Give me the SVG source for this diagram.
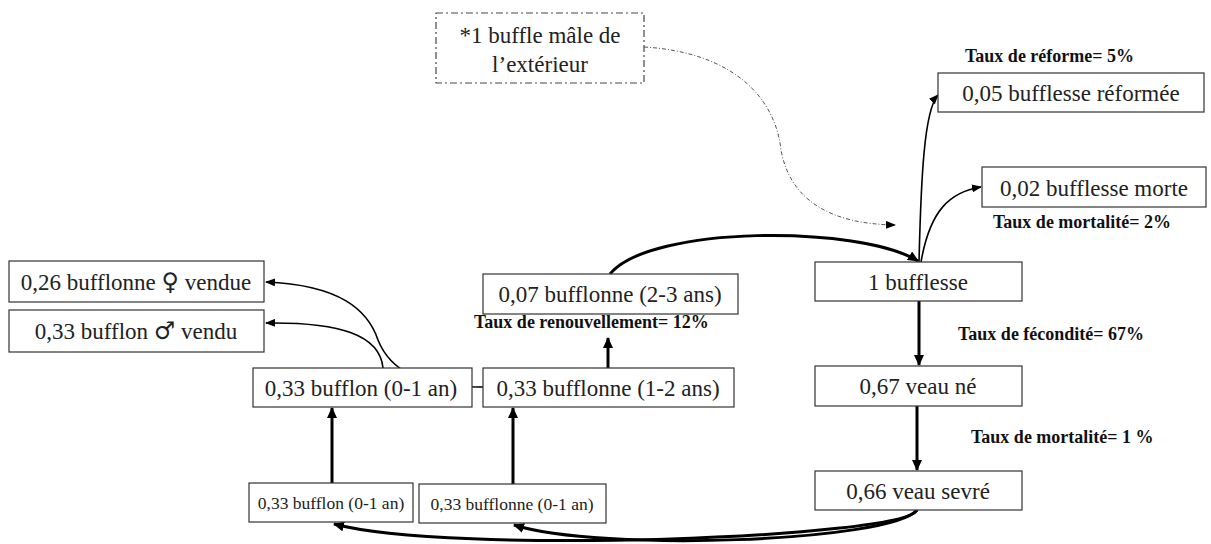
<svg xmlns="http://www.w3.org/2000/svg" width="1211" height="544" viewBox="0 0 1211 544">
<style>
.box{fill:#fff;stroke:#333;stroke-width:1.2}
.dbox{fill:#fff;stroke:#444;stroke-width:1.2;stroke-dasharray:7 3 2 3}
.t{font-family:"Liberation Serif","DejaVu Serif",serif;font-size:23px;fill:#222;text-anchor:middle}
.sm{font-size:17.5px}
.sym{font-family:"DejaVu Serif","DejaVu Sans",serif;font-size:24px}
.lb{font-family:"Liberation Serif","DejaVu Serif",serif;font-size:18px;font-weight:bold;fill:#111}
.thick{fill:none;stroke:#000;stroke-width:3;marker-end:url(#ah)}
.thin{fill:none;stroke:#000;stroke-width:1.6;marker-end:url(#ahs)}
.dot{fill:none;stroke:#555;stroke-width:1;stroke-dasharray:4 2 1 2;marker-end:url(#ahs)}
</style>
<defs>
<marker id="ah" markerUnits="userSpaceOnUse" markerWidth="12" markerHeight="10" refX="10" refY="5" orient="auto"><path d="M0,0 L11,5 L0,10 z" fill="#000"/></marker>
<marker id="ahs" markerUnits="userSpaceOnUse" markerWidth="11" markerHeight="8" refX="9" refY="4" orient="auto"><path d="M0,0 L10,4 L0,8 z" fill="#000"/></marker>
</defs>
<rect width="1211" height="544" fill="#fff"/>
<g id="connectors">
<path class="thick" d="M610,274 C650,225 860,225 918,261"/>
<path class="thick" d="M919,301 L919,365"/>
<path class="thick" d="M917,406 L917,470"/>
<path class="thick" d="M917,510 C905,538 450,555 334,524"/>
<path class="thick" d="M917,510 C890,542 600,552 514,525"/>
<path class="thick" d="M332,483 L332,408"/>
<path class="thick" d="M513,484 L513,408"/>
<path class="thick" d="M608,368 L608,338"/>
<path class="thin" d="M383,368 C380,335 340,322 266,323"/>
<path class="thin" d="M483,387 C420,388 390,370 378,340 C368,310 340,285 266,282"/>
<path class="thin" d="M919,262 C921,180 924,110 938,95"/>
<path class="thin" d="M921,262 C930,210 950,192 981,187"/>
<path class="dot" d="M644,47 C730,52 775,95 781,150 C790,200 830,224 895,225"/>
</g>
<g id="ext"><rect class="dbox" x="436" y="13" width="208" height="70"/><text class="t" x="540" y="43">*1 buffle mâle de</text><text class="t" x="540" y="72">l’extérieur</text></g>
<g id="reformee"><rect class="box" x="938" y="73" width="266" height="39"/><text class="t" x="1071" y="101">0,05 bufflesse réformée</text></g>
<g id="morte"><rect class="box" x="982" y="167" width="224" height="40"/><text class="t" x="1094" y="196">0,02 bufflesse morte</text></g>
<g id="bufflesse"><rect class="box" x="815" y="262" width="207" height="39"/><text class="t" x="918" y="290">1 bufflesse</text></g>
<g id="veau-ne"><rect class="box" x="815" y="366" width="207" height="40"/><text class="t" x="918" y="394">0,67 veau né</text></g>
<g id="veau-sevre"><rect class="box" x="815" y="471" width="207" height="39"/><text class="t" x="918" y="499">0,66 veau sevré</text></g>
<g id="bufflonne-2-3"><rect class="box" x="483" y="274" width="255" height="40"/><text class="t" x="610" y="302">0,07 bufflonne (2-3 ans)</text></g>
<g id="bufflonne-1-2"><rect class="box" x="483" y="368" width="251" height="39"/><text class="t" x="608" y="396">0,33 bufflonne (1-2 ans)</text></g>
<g id="bufflon-mid"><rect class="box" x="253" y="368" width="219" height="39"/><text class="t" x="361" y="396">0,33 bufflon (0-1 an)</text></g>
<g id="bufflon-bottom"><rect class="box" x="249" y="483" width="164" height="39"/><text class="t sm" x="331" y="509">0,33 bufflon (0-1 an)</text></g>
<g id="bufflonne-bottom"><rect class="box" x="419" y="484" width="187" height="39"/><text class="t sm" x="512" y="510">0,33 bufflonne (0-1 an)</text></g>
<g id="vendue"><rect class="box" x="9" y="261" width="255" height="41"/><text class="t" x="136" y="290">0,26 bufflonne <tspan class="sym">♀</tspan> vendue</text></g>
<g id="vendu"><rect class="box" x="9" y="310" width="255" height="42"/><text class="t" x="136" y="339">0,33 bufflon <tspan class="sym">♂</tspan> vendu</text></g>
<g id="labels">
<text class="lb" x="965" y="62">Taux de réforme= 5%</text>
<text class="lb" x="993" y="228">Taux de mortalité= 2%</text>
<text class="lb" x="958" y="340">Taux de fécondité= 67%</text>
<text class="lb" x="971" y="443">Taux de mortalité= 1 %</text>
<text class="lb" x="474" y="328">Taux de renouvellement= 12%</text>
</g>
</svg>
